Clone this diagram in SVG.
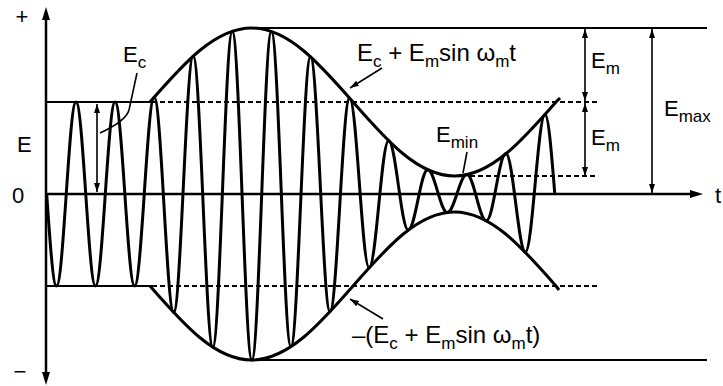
<svg xmlns="http://www.w3.org/2000/svg" width="723" height="386" viewBox="0 0 723 386">
<style>
.ax{stroke:#000;stroke-width:2.5;fill:none}
.wave{stroke:#000;stroke-width:3;fill:none;stroke-linejoin:round}
.env{stroke:#000;stroke-width:3;fill:none}
.lvl{stroke:#000;stroke-width:2.2;fill:none}
.dash{stroke:#000;stroke-width:1.8;stroke-dasharray:5 3;fill:none}
.dim{stroke:#000;stroke-width:1.6;fill:none}
text{font-family:"Liberation Sans",Arial,sans-serif;fill:#000}
.lg{font-size:24px}
.md{font-size:22px}
.sb{font-size:17px}
</style>
<defs>
<marker id="axh" markerUnits="userSpaceOnUse" markerWidth="13" markerHeight="9" refX="0" refY="4" orient="auto-start-reverse"><path d="M0,0 L13,4 L0,8 z" fill="#000"/></marker>
<marker id="dh" markerUnits="userSpaceOnUse" markerWidth="9" markerHeight="7" refX="9" refY="3" orient="auto-start-reverse"><path d="M0,0 L9,3 L0,6 z" fill="#000"/></marker>
</defs>
<g id="axes">
<line class="ax" x1="46" y1="372" x2="46" y2="20" marker-start="url(#axh)" marker-end="url(#axh)"/>
<line class="ax" x1="46" y1="194" x2="690" y2="194" marker-end="url(#axh)"/>
</g>
<g id="levels">
<line class="lvl" x1="46" y1="102" x2="152" y2="102"/>
<line class="lvl" x1="46" y1="286" x2="152" y2="286"/>
<line class="dash" x1="152" y1="102" x2="597" y2="102"/>
<line class="dash" x1="152" y1="286" x2="597" y2="286"/>
<line class="dash" x1="470" y1="176" x2="597" y2="176"/>
<line class="lvl" x1="245" y1="28" x2="707" y2="28"/>
<line class="lvl" x1="245" y1="360" x2="707" y2="360"/>
</g>
<g id="envelope">
<path class="env" d="M150,102 C183.8,63.3 215,28 251.5,28 C288,28 319.2,63.3 353,102 C386.8,140.7 418,176 454.5,176 C491,176 522.2,140.7 556,102 L560,98"/>
<path class="env" d="M150,286 C183.8,324.7 215,360 251.5,360 C288,360 319.2,324.7 353,286 C386.8,247.3 418,212 454.5,212 C491,212 522.2,247.3 556,286 L559,290"/>
</g>
<g id="wave">
<path class="wave" d="M46.7,194 C50,242.2 53,286 56.5,286
C63.6,286 68.9,102 76,102
C83.1,102 88.4,286 95.5,286
C102.6,286 108,102 115.1,102
C122.2,102 127.5,286 134.6,286
C141.7,286 147.1,97.2 154.2,97.2
C161.3,97.2 166.6,312.5 173.7,312.5
C180.8,312.5 186.1,56.1 193.2,56.1
C200.3,56.1 205.7,347.1 212.8,347.1
C219.9,347.1 225.2,31.2 232.3,31.2
C239.4,31.2 244.8,360 251.9,360
C259,360 264.3,31.5 271.4,31.5
C278.5,31.5 283.8,346.7 290.9,346.7
C298,346.7 303.4,56.8 310.5,56.8
C317.6,56.8 322.9,311.7 330,311.7
C337.1,311.7 342.5,98.1 349.6,98.1
C356.7,98.1 362,267.8 369.1,267.8
C376.2,267.8 381.5,140.7 388.6,140.7
C395.7,140.7 401.1,230 408.2,230
C415.3,230 420.6,169.8 427.7,169.8
C434.8,169.8 440.2,212.5 447.3,212.5
C454.4,212.5 459.7,174.6 466.8,174.6
C473.9,174.6 479.2,220.8 486.3,220.8
C493.4,220.8 498.8,153.5 505.9,153.5
C513,153.5 518.3,252.1 525.4,252.1
C532.5,252.1 537.9,114.5 545,114.5
C548.5,114.5 551.5,152.4 554.8,194"/>
</g>
<g id="connectors">
<line class="dim" x1="97" y1="104" x2="97" y2="192" marker-start="url(#dh)" marker-end="url(#dh)"/>
<line class="dim" x1="585" y1="29" x2="585" y2="101" marker-start="url(#dh)" marker-end="url(#dh)"/>
<line class="dim" x1="585" y1="103" x2="585" y2="176" marker-start="url(#dh)" marker-end="url(#dh)"/>
<line class="dim" x1="652" y1="29" x2="652" y2="193" marker-start="url(#dh)" marker-end="url(#dh)"/>
<path class="dim" d="M137,73 L129,110 Q126,121 100,133"/>
<line class="dim" x1="382" y1="68" x2="350" y2="88" marker-end="url(#dh)"/>
<line class="dim" x1="383" y1="319" x2="350" y2="299" marker-end="url(#dh)"/>
<line class="dim" x1="467" y1="152" x2="463" y2="173"/>
</g>
<g id="labels">
<text class="md" x="22" y="24" text-anchor="middle">+</text>
<text class="md" x="20" y="379" text-anchor="middle">−</text>
<text class="md" x="17" y="152">E</text>
<text class="md" x="12" y="203">0</text>
<text class="md" x="715" y="203">t</text>
<text class="md" x="123" y="62">E<tspan class="sb" dy="6">c</tspan></text>
<text class="lg" x="357" y="61">E<tspan class="sb" dy="6">c</tspan><tspan dy="-6"> + E</tspan><tspan class="sb" dy="6">m</tspan><tspan dy="-6">sin ω</tspan><tspan class="sb" dy="6">m</tspan><tspan dy="-6">t</tspan></text>
<text class="lg" x="352" y="343">–(E<tspan class="sb" dy="6">c</tspan><tspan dy="-6"> + E</tspan><tspan class="sb" dy="6">m</tspan><tspan dy="-6">sin ω</tspan><tspan class="sb" dy="6">m</tspan><tspan dy="-6">t)</tspan></text>
<text class="md" x="591" y="68">E<tspan class="sb" dy="6">m</tspan></text>
<text class="md" x="591" y="145">E<tspan class="sb" dy="6">m</tspan></text>
<text class="md" x="664" y="116">E<tspan class="sb" dy="6">max</tspan></text>
<text class="md" x="436" y="142">E<tspan class="sb" dy="6">min</tspan></text>
</g>
</svg>
